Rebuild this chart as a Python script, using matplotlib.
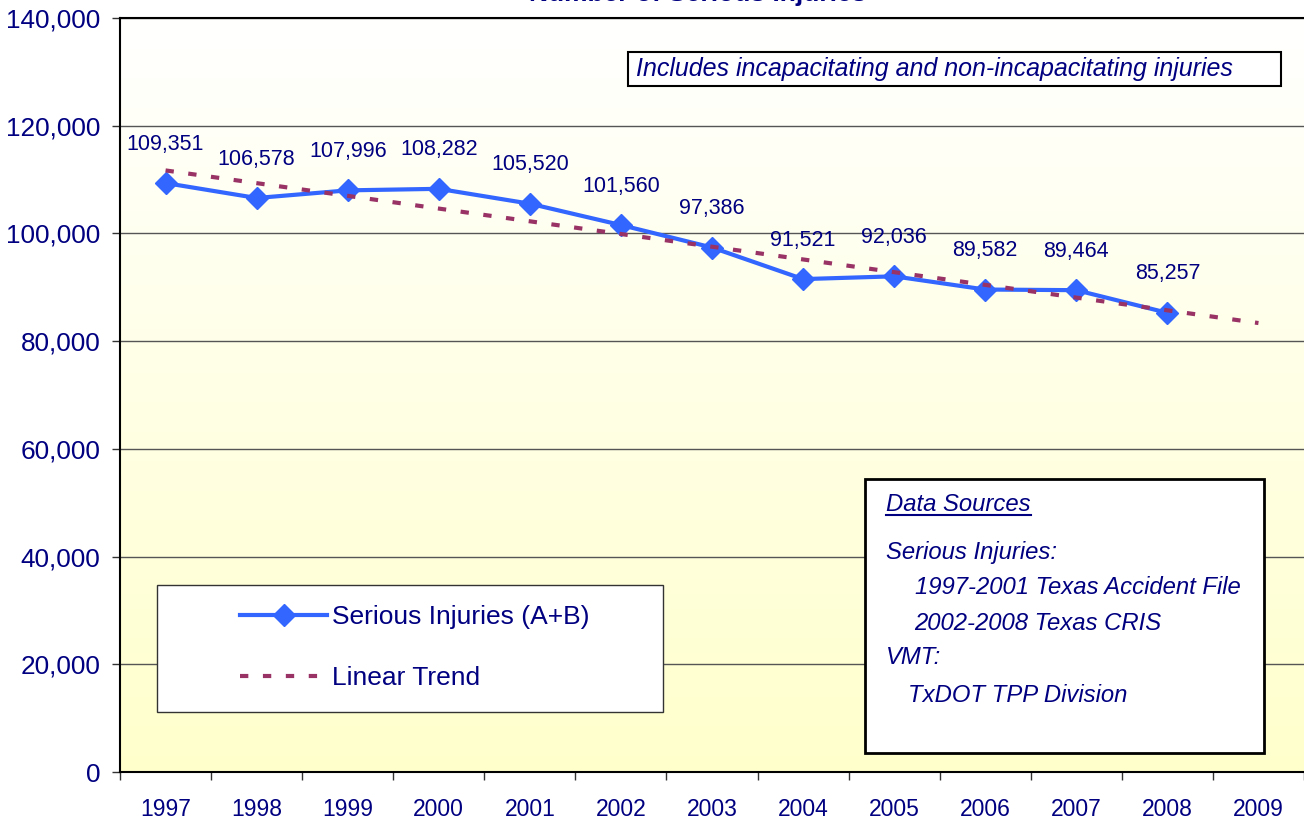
import numpy as np
import matplotlib.pyplot as plt
import matplotlib.patches as patches
from matplotlib.lines import Line2D
from matplotlib.ticker import FuncFormatter
from matplotlib import font_manager as fm

plt.rcParams['font.family'] = ['Liberation Sans', 'DejaVu Sans']

# Data
years = ['1997', '1998', '1999', '2000', '2001', '2002', '2003',
         '2004', '2005', '2006', '2007', '2008', '2009']
injuries = [109351, 106578, 107996, 108282, 105520, 101560, 97386,
            91521, 92036, 89582, 89464, 85257]

NAVY = '#000080'
BLUE = '#3366FF'
TREND = '#993366'

# x labels in the original are narrow; use Liberation Sans Narrow if it is there
has_narrow = any(f.name == 'Liberation Sans Narrow' for f in fm.fontManager.ttflist)

W, H = 1304, 825
fig = plt.figure(figsize=(W / 100, H / 100), dpi=100)
ax = fig.add_axes([120 / W, 1 - 772 / H, 1 - 120 / W, (772 - 18) / H])

def fx(px):
    return px / W

def fy(py):
    return 1 - py / H

x = np.arange(len(years))
xd = x[:len(injuries)]

# linear trend fitted on observed years, extended to last category
slope, intercept = np.polyfit(xd, injuries, 1)
trend = slope * x + intercept

# gradient background: white at top to pale yellow at bottom
grad = np.linspace(1.0, 0.8, 256)
img = np.dstack([np.ones_like(grad), np.ones_like(grad), grad]).reshape(256, 1, 3)
ax.imshow(img, extent=[-0.5, len(years) - 0.5, 0, 140000], aspect='auto', zorder=0)

line, = ax.plot(xd, injuries, color=BLUE, lw=3, marker='D', ms=11,
                mec=BLUE, mfc=BLUE, zorder=3, label='Serious Injuries (A+B)')
tline, = ax.plot(x, trend, color=TREND, lw=3, ls=(0, (2.0, 3.5)),
                 zorder=3.5, label='Linear Trend')

for xi, v in zip(xd, injuries):
    ax.annotate(f'{v:,}', (xi, v), xytext=(0, 28), textcoords='offset points',
                ha='center', va='center', fontsize=15.5, color=NAVY, zorder=6)

ax.set_xlim(-0.5, len(years) - 0.5)
ax.set_ylim(0, 140000)

ax.set_yticks(np.arange(0, 140001, 20000))
ax.yaxis.set_major_formatter(FuncFormatter(lambda v, p: f'{v:,.0f}'))
ax.tick_params(axis='y', length=6, width=1, color='#333333', pad=8,
               labelsize=18.8, labelcolor=NAVY)
ax.yaxis.grid(True, color='#555555', lw=1.0)
ax.set_axisbelow(True)

ax.set_xticks(x)
ax.set_xticklabels(years)
ax.set_xticks(np.arange(-0.5, len(years), 1), minor=True)
ax.tick_params(axis='x', which='major', length=0, pad=19, labelcolor=NAVY)
ax.tick_params(axis='x', which='minor', length=6, width=1, color='#333333')
for lbl in ax.get_xticklabels():
    if has_narrow:
        lbl.set_family('Liberation Sans Narrow')
        lbl.set_fontsize(18)
    else:
        lbl.set_fontsize(16.5)

for s in ['left', 'bottom', 'top']:
    ax.spines[s].set_color('black')
    ax.spines[s].set_linewidth(1.5)
ax.spines['right'].set_visible(False)

# title, mostly cut off at the top as in the original
fig.text(fx(698), fy(1.5), 'Number of Serious Injuries', ha='center', va='baseline',
         fontsize=19, weight='bold', color=NAVY)

# note box
ax.add_patch(patches.Rectangle((fx(628), fy(86)), fx(1281) - fx(628), fy(52) - fy(86),
                               transform=fig.transFigure, facecolor='white',
                               edgecolor='black', lw=1.5, zorder=4, clip_on=False))
ax.text(fx(636), fy(69), 'Includes incapacitating and non-incapacitating injuries',
        transform=fig.transFigure, ha='left', va='center', style='italic',
        fontsize=18, color=NAVY, zorder=6)

# legend box
ax.add_patch(patches.Rectangle((fx(157), fy(712)), fx(663) - fx(157), fy(585) - fy(712),
                               transform=fig.transFigure, facecolor='white',
                               edgecolor='#333333', lw=1, zorder=4, clip_on=False))
leg = ax.legend(handles=[line, tline], loc='upper left',
                bbox_to_anchor=(fx(240), fy(605)), bbox_transform=fig.transFigure,
                frameon=False, borderpad=0, borderaxespad=0, handlelength=3.3,
                handletextpad=0.2, labelspacing=1.42, fontsize=19, numpoints=1)
leg.set_zorder(6)
for t in leg.get_texts():
    t.set_color(NAVY)

# data sources box
ax.add_patch(patches.Rectangle((fx(865), fy(753)), fx(1264) - fx(865), fy(479) - fy(753),
                               transform=fig.transFigure, facecolor='white',
                               edgecolor='black', lw=2, zorder=4, clip_on=False))
src_lines = [
    (886, 504, 'Data Sources'),
    (886, 552, 'Serious Injuries:'),
    (915, 588, '1997-2001 Texas Accident File'),
    (914, 623, '2002-2008 Texas CRIS'),
    (886, 658, 'VMT:'),
    (908, 695, 'TxDOT TPP Division'),
]
src_texts = []
for px, py, s in src_lines:
    src_texts.append(ax.text(fx(px), fy(py), s, transform=fig.transFigure, ha='left',
                             va='center', fontsize=17.2, style='italic', color=NAVY,
                             zorder=6))

# underline the heading
fig.canvas.draw()
bb = src_texts[0].get_window_extent()
ax.add_line(Line2D([bb.x0 / W, bb.x1 / W], [(bb.y0 + 1) / H] * 2,
                   transform=fig.transFigure, color=NAVY, lw=1.5, zorder=6,
                   clip_on=False))

fig.savefig('out.png', dpi=100)
